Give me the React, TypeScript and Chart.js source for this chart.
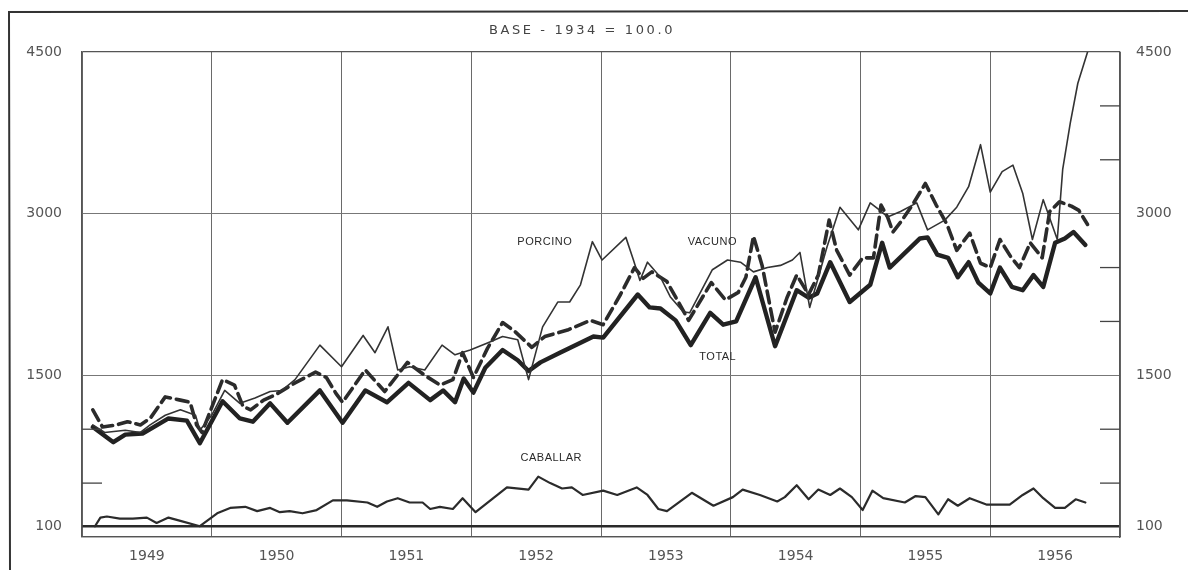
import React, { useEffect, useRef } from 'react';
import { Chart, registerables } from 'chart.js';

Chart.register(...registerables);

// x = months since January 1949, y = index (base 1934 = 100)
const YEARS = ['1949', '1950', '1951', '1952', '1953', '1954', '1955', '1956'];

const TOTAL_M = [1.0, 2.9, 4.0, 5.6, 8.0, 9.7, 10.9, 13.0, 14.6, 15.8, 17.4, 19.0, 22.0, 24.1, 26.2, 28.2, 30.2, 32.2, 33.4, 34.5, 35.3, 36.2, 37.3, 38.9, 40.3, 41.3, 42.4, 44.2, 47.3, 48.2, 51.4, 52.5, 53.5, 54.9, 56.3, 58.1, 59.3, 60.5, 62.3, 64.1, 66.1, 67.2, 68.0, 69.2, 71.0, 72.9, 74.0, 74.7, 77.5, 78.2, 79.1, 80.1, 81.0, 82.0, 82.9, 84.0, 84.9, 86.0, 87.0, 88.0, 88.9, 90.0, 90.9, 91.7, 92.8];
const TOTAL_V = [1020, 880, 950, 960, 1100, 1080, 870, 1260, 1100, 1070, 1240, 1060, 1360, 1060, 1360, 1250, 1430, 1270, 1360, 1250, 1470, 1340, 1570, 1735, 1640, 1540, 1620, 1710, 1860, 1850, 2250, 2130, 2120, 2010, 1780, 2080, 1970, 2000, 2410, 1770, 2290, 2220, 2260, 2550, 2180, 2340, 2730, 2500, 2770, 2780, 2620, 2590, 2410, 2550, 2360, 2260, 2500, 2320, 2290, 2430, 2320, 2730, 2770, 2830, 2710];

const VACUNO_M = [1.0, 1.9, 3.2, 4.2, 5.4, 6.3, 7.7, 9.1, 10.0, 10.6, 11.1, 13.0, 14.1, 14.9, 15.6, 16.8, 17.9, 19.7, 21.6, 22.6, 23.5, 24.1, 26.2, 28.0, 30.1, 31.7, 33.1, 34.3, 35.2, 36.2, 37.5, 38.9, 40.0, 41.6, 42.8, 44.9, 47.0, 48.2, 49.8, 51.1, 51.9, 52.7, 54.1, 56.1, 58.2, 59.5, 60.7, 61.4, 62.1, 62.9, 64.1, 65.2, 66.1, 67.2, 68.1, 69.1, 69.8, 71.0, 72.2, 73.2, 73.9, 74.5, 75.0, 75.7, 76.8, 78.0, 79.0, 80.0, 80.9, 82.1, 83.1, 84.0, 84.9, 85.9, 86.7, 87.7, 88.8, 89.5, 90.4, 91.5, 92.2, 93.0];
const VACUNO_V = [1180, 1020, 1040, 1070, 1040, 1100, 1300, 1270, 1250, 1040, 970, 1460, 1410, 1210, 1180, 1270, 1320, 1430, 1530, 1480, 1330, 1250, 1550, 1350, 1620, 1500, 1410, 1460, 1710, 1480, 1750, 1990, 1910, 1760, 1860, 1920, 2010, 1970, 2250, 2500, 2400, 2460, 2370, 2010, 2360, 2200, 2270, 2410, 2790, 2520, 1900, 2220, 2430, 2250, 2430, 2940, 2660, 2430, 2590, 2590, 3080, 2970, 2830, 2920, 3080, 3280, 3080, 2900, 2660, 2820, 2540, 2500, 2760, 2600, 2500, 2730, 2590, 3020, 3110, 3070, 3030, 2900];

const PORCINO_M = [1.0, 2.1, 4.0, 5.4, 6.3, 7.7, 9.1, 10.5, 10.9, 12.0, 13.2, 14.6, 16.0, 17.4, 18.5, 19.7, 22.0, 24.0, 26.0, 27.1, 28.3, 29.2, 30.3, 31.7, 33.3, 34.5, 35.9, 37.5, 38.9, 40.3, 41.3, 42.6, 44.0, 45.1, 46.1, 47.2, 48.1, 50.3, 51.0, 51.6, 52.3, 53.5, 54.4, 55.6, 56.2, 58.3, 59.7, 60.9, 62.1, 63.4, 64.6, 65.7, 66.4, 67.3, 68.9, 70.1, 71.8, 72.9, 73.8, 74.5, 75.7, 77.2, 78.2, 79.8, 80.9, 82.0, 83.1, 84.0, 85.1, 86.1, 87.0, 87.9, 88.9, 90.2, 90.7, 91.4, 92.1, 93.0];
const PORCINO_V = [1040, 970, 990, 970, 1040, 1130, 1180, 1130, 990, 1130, 1360, 1240, 1290, 1350, 1360, 1460, 1780, 1580, 1870, 1710, 1950, 1550, 1580, 1550, 1780, 1690, 1735, 1800, 1860, 1830, 1460, 1950, 2180, 2180, 2340, 2740, 2570, 2780, 2570, 2380, 2550, 2410, 2230, 2090, 2080, 2480, 2570, 2550, 2460, 2500, 2520, 2570, 2640, 2130, 2690, 3060, 2850, 3100, 3030, 2970, 3020, 3100, 2850, 2940, 3060, 3250, 3640, 3200, 3390, 3450, 3190, 2760, 3130, 2760, 3410, 3840, 4210, 4500];

const CABALLAR_M = [1.2, 1.7, 2.3, 3.5, 4.7, 6.0, 6.9, 8.0, 9.1, 10.9, 12.5, 13.7, 15.1, 16.2, 17.4, 18.3, 19.2, 20.4, 21.7, 23.2, 24.5, 26.4, 27.3, 28.2, 29.2, 30.3, 31.5, 32.2, 33.1, 34.3, 35.2, 36.4, 39.3, 41.3, 42.2, 43.3, 44.4, 45.3, 46.3, 48.2, 49.5, 51.3, 52.3, 53.3, 54.1, 56.4, 58.4, 60.2, 61.1, 62.7, 64.3, 65.0, 66.1, 67.2, 68.1, 69.2, 70.1, 71.2, 72.2, 73.1, 74.1, 76.1, 77.1, 78.0, 79.2, 80.1, 81.0, 82.1, 83.7, 85.8, 87.0, 88.0, 88.9, 90.0, 90.9, 91.9, 92.8];
const CABALLAR_V = [100, 180, 190, 170, 170, 180, 130, 180, 150, 100, 220, 270, 280, 240, 270, 230, 240, 220, 250, 340, 340, 320, 280, 330, 360, 320, 320, 260, 280, 260, 360, 230, 460, 440, 560, 500, 450, 460, 390, 430, 390, 460, 390, 260, 240, 410, 290, 370, 440, 390, 330, 370, 480, 350, 440, 390, 450, 370, 250, 430, 360, 320, 380, 370, 210, 350, 290, 360, 300, 300, 390, 450, 360, 270, 270, 350, 320];

const Y_TICKS = [0, 100, 500, 1000, 1500, 2000, 2500, 3000, 3500, 4000, 4500];
const Y_LABELS = [100, 1500, 3000, 4500];
const LEFT_MINOR = [500, 1000];
const RIGHT_MINOR = [500, 1000, 2000, 2500, 3500, 4000];

const TITLE = 'BASE - 1934 = 100.0';
const SERIES_NAMES = ['PORCINO', 'VACUNO', 'TOTAL', 'CABALLAR'];
const NAME_AT_M = [42.8, 58.3, 58.8, 43.4];
const NAME_AT_V = [2737, 2737, 1670, 733];

const pts = (m: number[], v: number[]) => m.map((x, i) => ({ x, y: v[i] }));

const INK = '#2b2b2b';
const TICK_FONT = { family: 'DejaVu Sans', size: 14 };

const decor = {
  id: 'decor',
  afterDraw(chart: any) {
    const { ctx, chartArea, scales } = chart;
    const y = scales.y;
    const x = scales.x;
    ctx.save();
    ctx.strokeStyle = '#444';
    ctx.lineWidth = 1.3;
    LEFT_MINOR.forEach((v) => {
      const py = y.getPixelForValue(v);
      ctx.beginPath();
      ctx.moveTo(chartArea.left, py);
      ctx.lineTo(chartArea.left + 20, py);
      ctx.stroke();
    });
    RIGHT_MINOR.forEach((v) => {
      const py = y.getPixelForValue(v);
      ctx.beginPath();
      ctx.moveTo(chartArea.right - 20, py);
      ctx.lineTo(chartArea.right, py);
      ctx.stroke();
    });
    ctx.fillStyle = '#2a2a2a';
    ctx.font = '11px "Liberation Sans"';
    ctx.textAlign = 'center';
    ctx.textBaseline = 'middle';
    try { (ctx as any).letterSpacing = '0.5px'; } catch (e) {}
    SERIES_NAMES.forEach((t, i) => {
      ctx.fillText(t, x.getPixelForValue(NAME_AT_M[i]), y.getPixelForValue(NAME_AT_V[i]));
    });
    ctx.fillStyle = '#444';
    ctx.font = '13px "DejaVu Sans"';
    try { (ctx as any).letterSpacing = '2.6px'; } catch (e) {}
    ctx.fillText(TITLE, 582, 31);
    try { (ctx as any).letterSpacing = '0px'; } catch (e) {}
    ctx.strokeStyle = '#333';
    ctx.lineWidth = 2;
    ctx.beginPath();
    ctx.moveTo(1188, 11);
    ctx.lineTo(9, 12);
    ctx.lineTo(10, 570);
    ctx.stroke();
    ctx.restore();
  },
};

export default function App() {
  const ref = useRef<HTMLCanvasElement | null>(null);

  useEffect(() => {
    if (!ref.current) return;
    const yTicks = (scale: any) => {
      scale.ticks = Y_TICKS.map((value) => ({ value }));
    };
    const yLabel = (v: any) => (Y_LABELS.includes(Number(v)) ? String(v) : '');
    const chart = new Chart(ref.current, {
      type: 'line',
      data: {
        datasets: [
          { label: 'CABALLAR', data: pts(CABALLAR_M, CABALLAR_V), borderColor: INK, borderWidth: 2.2 },
          { label: 'PORCINO', data: pts(PORCINO_M, PORCINO_V), borderColor: '#333', borderWidth: 1.6 },
          { label: 'VACUNO', data: pts(VACUNO_M, VACUNO_V), borderColor: INK, borderWidth: 3.6, borderDash: [12, 6] },
          { label: 'TOTAL', data: pts(TOTAL_M, TOTAL_V), borderColor: '#222', borderWidth: 4.4 },
        ],
      },
      options: {
        animation: false,
        responsive: false,
        layout: { padding: { top: 52, left: 0, right: 0, bottom: 0 } },
        elements: {
          point: { radius: 0 },
          line: { tension: 0, borderJoinStyle: 'round', borderCapStyle: 'round' },
        },
        plugins: { legend: { display: false }, tooltip: { enabled: false } },
        scales: {
          x: {
            type: 'linear', position: 'bottom', min: 0, max: 96,
            afterBuildTicks: (scale: any) => {
              scale.ticks = YEARS.concat(['']).map((_, i) => ({ value: i * 12 }));
            },
            afterFit: (scale: any) => { scale.height = 0; },
            ticks: { display: false },
            grid: { color: '#6a6a6a', lineWidth: 1, drawTicks: false },
            border: { display: true, color: '#555', width: 1.3 },
          },
          x2: {
            type: 'linear', position: 'bottom', min: 0, max: 96,
            afterBuildTicks: (scale: any) => {
              scale.ticks = YEARS.map((_, i) => ({ value: 6 + i * 12 }));
            },
            afterFit: (scale: any) => { scale.height = 33; },
            ticks: {
              autoSkip: false, maxRotation: 0, padding: 11, color: '#555', font: TICK_FONT,
              callback: (v: any) => YEARS[Math.round((Number(v) - 6) / 12)] ?? '',
            },
            grid: { display: false, drawTicks: false },
            border: { display: false },
          },
          y: {
            type: 'linear', position: 'left', min: 0, max: 4500,
            afterBuildTicks: yTicks,
            afterFit: (scale: any) => { scale.width = 82; },
            ticks: { autoSkip: false, padding: 20, color: '#555', font: TICK_FONT, callback: yLabel },
            grid: {
              drawTicks: false,
              color: (c: any) => {
                const v = c.tick?.value;
                if (v === 100) return '#2a2a2a';
                if (v === 1500 || v === 3000) return '#777';
                if (v === 4500 || v === 0) return '#555';
                return 'rgba(0,0,0,0)';
              },
              lineWidth: (c: any) => {
                const v = c.tick?.value;
                if (v === 100) return 2.6;
                if (v === 4500 || v === 0) return 1.3;
                return 1;
              },
            },
            border: { display: true, color: '#555', width: 1.3 },
          },
          y2: {
            type: 'linear', position: 'right', min: 0, max: 4500,
            afterBuildTicks: yTicks,
            afterFit: (scale: any) => { scale.width = 68; },
            ticks: { autoSkip: false, padding: 16, color: '#555', font: TICK_FONT, callback: yLabel },
            grid: { display: false, drawTicks: false },
            border: { display: true, color: '#555', width: 1.3 },
          },
        },
      } as any,
      plugins: [decor],
    });
    return () => chart.destroy();
  }, []);

  return (
    <div style={{ position: 'absolute', left: 0, top: 0, width: 1188, height: 570, background: '#fff' }}>
      <canvas ref={ref} width={1188} height={570} style={{ display: 'block', width: 1188, height: 570 }} />
    </div>
  );
}
